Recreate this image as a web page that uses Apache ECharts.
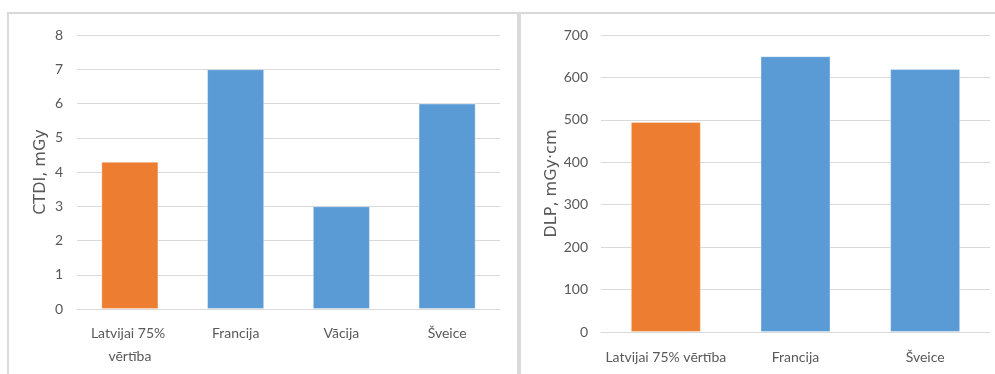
<!DOCTYPE html>
<html>
<head>
<meta charset="utf-8">
<script src="https://cdn.jsdelivr.net/npm/echarts@6/dist/echarts.min.js"></script>
<style>
  html, body { margin: 0; padding: 0; background: #fff; overflow: hidden; }
  #wrap { position: relative; width: 995px; height: 374px; }
  .frame { position: absolute; border: 2px solid #d9d9d9; box-sizing: border-box; }
  #frameA { left: 7px; top: 12px; width: 512px; height: 400px; }
  #frameB { left: 519px; top: 12px; width: 500px; height: 400px; }
  #chart { position: absolute; left: 0; top: 0; width: 995px; height: 374px; }
</style>
</head>
<body>
<div id="wrap">
  <div class="frame" id="frameA"></div>
  <div class="frame" id="frameB"></div>
  <div id="chart"></div>
</div>
<script>
// CTDI (mGy) comparison
const ctdiCategories = ['Latvijai 75% vērtība', 'Francija', 'Vācija', 'Šveice'];
const ctdiValues = [4.3, 7, 3, 6];
// DLP (mGy·cm) comparison
const dlpCategories = ['Latvijai 75% vērtība', 'Francija', 'Šveice'];
const dlpValues = [495, 650, 620];

const ORANGE = '#ED7D31';
const BLUE = '#5B9BD5';
const TEXT = '#595959';
const GRID = '#d9d9d9';
const LABEL_FONT = 'Lato';

function barData(values) {
  // the first (Latvian) value is highlighted in orange
  return values.map((v, i) => ({
    value: v,
    itemStyle: { color: i === 0 ? ORANGE : BLUE }
  }));
}

function valueAxis(gridIndex, max, interval, name, margin, nameGap) {
  return {
    type: 'value', gridIndex, min: 0, max, interval,
    name, nameLocation: 'middle', nameGap, nameRotate: 90,
    nameMoveOverlap: false,
    nameTextStyle: { fontFamily: 'DejaVu Sans', fontSize: 16, color: TEXT },
    axisLine: { show: false }, axisTick: { show: false },
    axisLabel: { color: TEXT, fontFamily: LABEL_FONT, fontSize: 14, margin },
    splitLine: { lineStyle: { color: GRID, width: 1 } }
  };
}

function categoryAxis(gridIndex, data, margin, width) {
  return {
    type: 'category', gridIndex, data,
    axisLine: { lineStyle: { color: GRID, width: 1 } },
    axisTick: { show: false },
    axisLabel: {
      color: TEXT, fontFamily: LABEL_FONT, fontSize: 14, margin,
      interval: 0, lineHeight: 23, width, overflow: 'break'
    }
  };
}

const chart = echarts.init(document.getElementById('chart'), null, { renderer: 'canvas' });
chart.setOption({
  backgroundColor: 'transparent',
  animation: false,
  grid: [
    { left: 77, right: 495, top: 35, bottom: 65, outerBoundsMode: 'none', containLabel: false },
    { left: 601, right: 5, top: 35, bottom: 42, outerBoundsMode: 'none', containLabel: false }
  ],
  xAxis: [
    categoryAxis(0, ctdiCategories, 13, 96),
    categoryAxis(1, dlpCategories, 14, 160)
  ],
  yAxis: [
    valueAxis(0, 8, 1, 'CTDI, mGy', 14, 28),
    valueAxis(1, 700, 100, 'DLP, mGy·cm', 13, 41)
  ],
  series: [
    {
      type: 'bar', xAxisIndex: 0, yAxisIndex: 0,
      data: barData(ctdiValues), barCategoryGap: '46%',
      itemStyle: { borderColor: 'rgba(255,255,255,0.35)', borderWidth: 1 }
    },
    {
      type: 'bar', xAxisIndex: 1, yAxisIndex: 1,
      data: barData(dlpValues), barCategoryGap: '46%',
      itemStyle: { borderColor: 'rgba(255,255,255,0.35)', borderWidth: 1 }
    }
  ]
});
</script>
</body>
</html>
